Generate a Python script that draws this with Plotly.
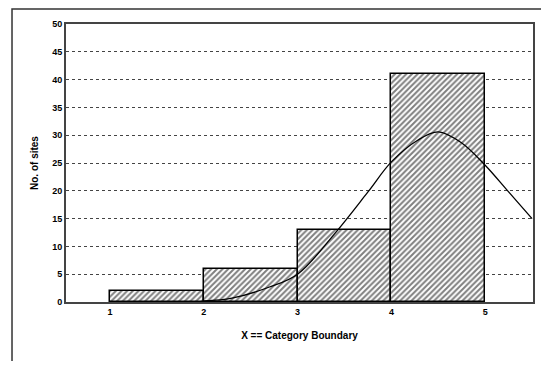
import plotly.graph_objects as go

# histogram bins (category boundaries) and counts
bin_left = [1, 2, 3, 4]
bin_width = [1, 1, 1, 1]
counts = [2, 6, 13, 41]

# fitted curve
curve_x = [2.0, 2.3, 2.7, 3.0, 3.4, 3.75, 4.0, 4.28, 4.5, 4.75, 5.0, 5.25, 5.5]
curve_y = [0.2, 0.7, 2.7, 5.0, 12.4, 19.8, 25.2, 29.1, 30.6, 28.6, 24.6, 19.8, 15.0]

x_ticks = [1, 2, 3, 4, 5]
y_ticks = list(range(0, 55, 5))

fig = go.Figure()

fig.add_trace(go.Bar(
    x=bin_left,
    y=counts,
    width=bin_width,
    offset=0,
    marker=dict(
        color='white',
        line=dict(color='black', width=1.5),
        pattern=dict(shape='/', fgcolor='black', bgcolor='white', size=4, solidity=0.5),
    ),
    showlegend=False,
))

fig.add_trace(go.Scatter(
    x=curve_x,
    y=curve_y,
    mode='lines',
    line=dict(color='black', width=1.3, shape='spline'),
    showlegend=False,
))

# page body has an 8px margin, so the figure is a bit smaller than the window
fig.update_layout(
    width=541,
    height=353,
    plot_bgcolor='white',
    paper_bgcolor='white',
    margin=dict(l=58, r=16, t=16, b=59),
    font=dict(family='Liberation Sans, Arial, sans-serif', color='black', size=8),
    bargap=0,
    shapes=[dict(
        type='rect', xref='paper', yref='paper',
        x0=-0.1156, x1=1.2, y0=-0.4, y1=1.054,
        line=dict(color='#333333', width=1.5),
        layer='below',
    )],
)

fig.update_xaxes(
    range=[0.53, 5.51],
    tickvals=x_ticks,
    ticks='',
    showgrid=False,
    zeroline=False,
    showline=True,
    linecolor='#444444',
    linewidth=2,
    mirror=True,
    title=dict(text='<b>X == Category Boundary</b>', standoff=16, font=dict(size=10)),
    tickfont=dict(size=9, weight='bold'),
)

fig.update_yaxes(
    range=[0, 50],
    tickvals=y_ticks,
    ticks='',
    showgrid=True,
    gridcolor='#444444',
    griddash='dot',
    gridwidth=1,
    zeroline=False,
    showline=True,
    linecolor='#444444',
    linewidth=2,
    mirror=True,
    title=dict(text='<b>No. of sites</b>', standoff=12, font=dict(size=10)),
    tickfont=dict(size=9, weight='bold'),
)

fig.write_html("out.html")
